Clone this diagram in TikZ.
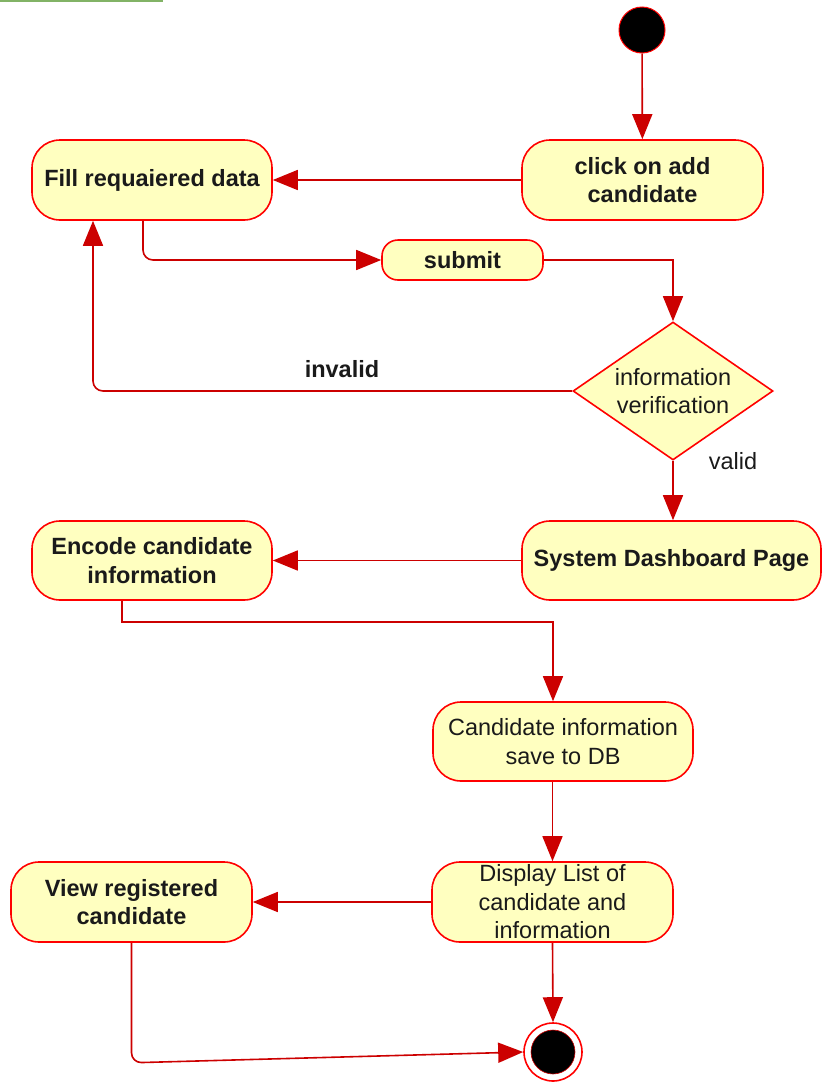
\documentclass[tikz,border=0pt]{standalone}
\usepackage{fontspec}
\setmainfont{Liberation Sans}
\usetikzlibrary{arrows.meta,shapes.geometric}
\definecolor{actfill}{HTML}{FFFFC0}
\definecolor{actline}{HTML}{FF0000}
\definecolor{flowred}{HTML}{CC0000}
\definecolor{txt}{HTML}{1A1A1A}
\definecolor{topgreen}{HTML}{82B366}
\begin{document}
\begin{tikzpicture}[x=1pt,y=-1pt,
  act/.style={draw=actline, fill=actfill, line width=1.6pt, rounded corners=28pt,
    align=center, inner sep=0pt, text=txt, font=\fontsize{23.5}{28.5}\selectfont},
  decision/.style={diamond, aspect=1.45, draw=actline, fill=actfill, line width=1.6pt,
    align=center, inner sep=0pt, text=txt, font=\fontsize{23.5}{28.5}\selectfont},
  flow/.style={draw=flowred, line width=1.6pt, -{Triangle[length=25pt,width=20pt]}},
  lbl/.style={text=txt, font=\fontsize{23.5}{28.5}\selectfont, inner sep=0pt}]
\useasboundingbox (0,0) rectangle (822,1082);
\draw[topgreen, line width=2pt] (0,1) -- (163,1);

\node[circle, fill=black, draw=actline, line width=1pt, minimum size=46pt, inner sep=0pt] (start) at (642,30) {};
\node[act, minimum width=241pt, minimum height=80pt] (click) at (642.5,180) {\bfseries click on add\\\bfseries candidate};
\node[act, minimum width=240pt, minimum height=80pt] (fill) at (152,180) {\bfseries Fill requaiered data};
\node[act, rounded corners=16pt, minimum width=161pt, minimum height=40pt] (submit) at (462.5,260) {\bfseries submit};
\node[decision, minimum width=200pt, minimum height=138pt] (diam) at (673,391) {information\\verification};
\node[act, minimum width=299pt, minimum height=79pt] (dash) at (671.5,560.5) {\bfseries System Dashboard Page};
\node[act, minimum width=240pt, minimum height=79pt] (encode) at (152,560.5) {\bfseries Encode candidate\\\bfseries information};
\node[act, minimum width=260pt, minimum height=79pt] (db) at (563,741.5) {Candidate information\\save to DB};
\node[act, minimum width=241pt, minimum height=80pt] (display) at (552.5,902) {Display List of\\candidate and\\information};
\node[act, minimum width=241pt, minimum height=80pt] (view) at (131.5,902) {\bfseries View registered\\\bfseries candidate};
\node[circle, draw=actline, fill=white, line width=1.6pt, minimum size=58pt, inner sep=0pt] (end) at (553,1052) {};
\node[circle, fill=black, draw=flowred, line width=0.6pt, minimum size=44pt, inner sep=0pt] (endin) at (end.center) {};

\draw[flow] (start) -- (click);
\draw[flow] (click.west) -- (fill.east);
\draw[flow, rounded corners=10pt] ([xshift=-9pt]fill.south) |- (submit.west);
\draw[flow] (submit.east) -| (diam.north);
\draw[flow, rounded corners=10pt] (diam.west) -| ([xshift=-59pt]fill.south);
\node[lbl, font=\fontsize{23.5}{28.5}\selectfont\bfseries] (invalid) at (342,369) {invalid};
\draw[flow] (diam.south) -- (diam.south |- dash.north);
\node[lbl] (valid) at (733,461) {valid};
\draw[flow] (dash.west) -- (encode.east);
\draw[flow] ([xshift=-30pt]encode.south) -- ++(0,21) -| ([xshift=-10pt]db.north);
\draw[flow] (display.north |- db.south) -- (display.north);
\draw[flow] (display.west) -- (view.east);
\draw[flow] (display.south) -- (end.north);
\draw[flow, rounded corners=10pt] (view.south) -- ++(0,120) -- (end.west);
\end{tikzpicture}
\end{document}
